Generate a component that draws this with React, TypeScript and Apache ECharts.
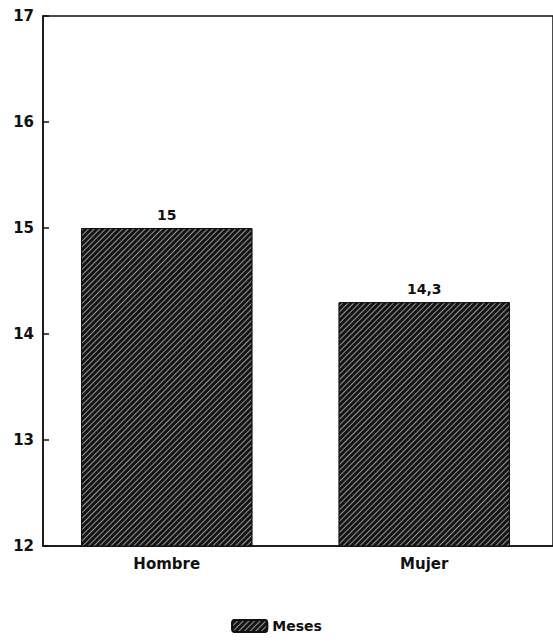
import React, { useEffect, useRef } from "react";
import * as echarts from "echarts";

const categories = ["Hombre", "Mujer"];
const values = [15, 14.3];
const seriesName = "Meses";
const yMin = 12;
const yMax = 17;

export default function App() {
  const ref = useRef<HTMLDivElement>(null);
  useEffect(() => {
    const chart = echarts.init(ref.current!, null, { renderer: "svg" });
    const dv = "'DejaVu Sans', sans-serif";
    chart.setOption({
      animation: false,
      backgroundColor: "#fff",
      grid: [
        {
          left: 43,
          top: 16,
          right: -4,
          bottom: 97,
          show: true,
          borderColor: "#111",
          borderWidth: 1.5,
        },
        { left: 38, top: 16, right: -8, bottom: 97 },
      ],
      xAxis: [
        {
          type: "category",
          gridIndex: 0,
          data: categories,
          axisLine: { lineStyle: { color: "#111", width: 1.5 } },
          axisTick: { show: false },
          axisLabel: { show: false },
        },
        {
          type: "category",
          gridIndex: 1,
          data: categories,
          axisLine: { show: false },
          axisTick: { show: false },
          axisLabel: {
            color: "#111",
            fontFamily: dv,
            fontWeight: "bold",
            fontSize: 15,
            margin: 10,
          },
        },
      ],
      yAxis: [
        {
          type: "value",
          gridIndex: 0,
          min: yMin,
          max: yMax,
          interval: 1,
          splitLine: { show: false },
          axisLine: { show: true, lineStyle: { color: "#111", width: 1.5 } },
          axisTick: { show: true, inside: true, length: 6, lineStyle: { color: "#111", width: 1.5 } },
          axisLabel: {
            color: "#111",
            fontFamily: dv,
            fontWeight: "bold",
            fontSize: 15,
            margin: 9,
          },
        },
        {
          type: "value",
          gridIndex: 1,
          min: yMin,
          max: yMax,
          interval: 1,
          show: false,
        },
      ],
      legend: {
        bottom: 5,
        left: "center",
        itemWidth: 35,
        itemHeight: 12,
        itemGap: 8,
        textStyle: { color: "#111", fontFamily: dv, fontWeight: "bold", fontSize: 14 },
        data: [seriesName],
      },
      series: [
        {
          name: seriesName,
          type: "bar",
          xAxisIndex: 1,
          yAxisIndex: 1,
          data: values,
          barWidth: "66.5%",
          itemStyle: {
            color: "#141414",
            borderColor: "#111",
            borderWidth: 1,
            decal: {
              symbol: "rect",
              symbolSize: 1,
              color: "rgba(255,255,255,0.55)",
              dashArrayX: [1, 0],
              dashArrayY: [1, 3],
              rotation: -Math.PI / 4,
            },
          },
          label: {
            show: true,
            position: "top",
            distance: 6,
            color: "#111",
            fontFamily: dv,
            fontWeight: "bold",
            fontSize: 14,
            formatter: (p: any) => String(p.value).replace(".", ","),
          },
        },
      ],
    });
    return () => chart.dispose();
  }, []);
  return (
    <div
      ref={ref}
      style={{ position: "absolute", left: 0, top: 0, width: 553, height: 643 }}
    />
  );
}
